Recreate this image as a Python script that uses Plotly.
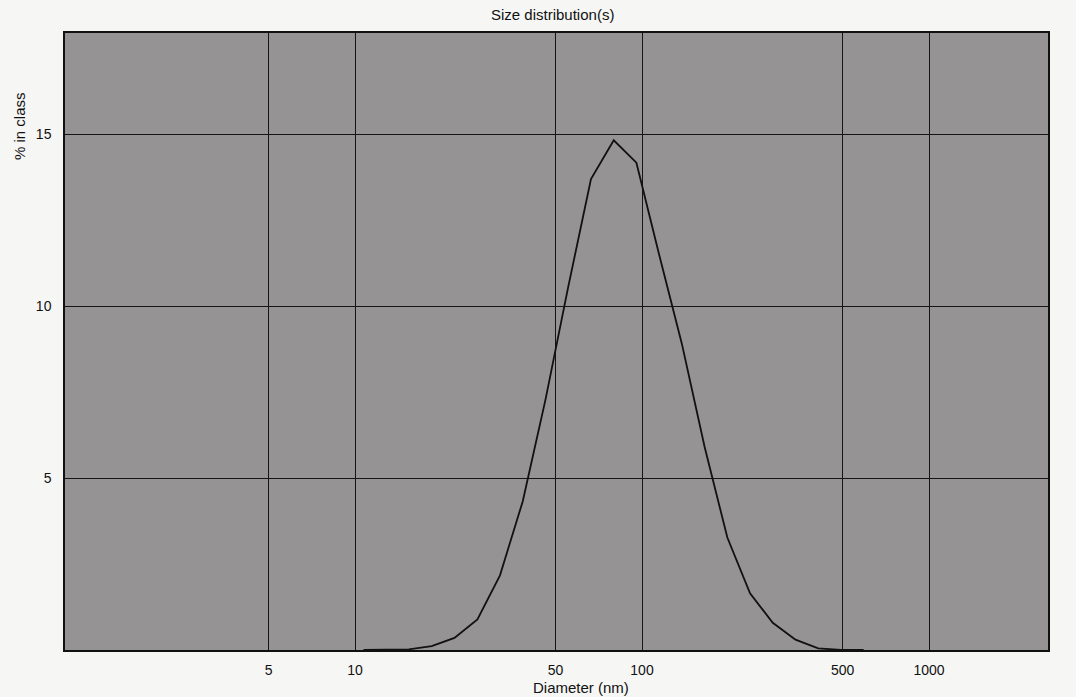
import plotly.graph_objects as go

# Size distribution
diameter_nm = [10.7, 12.9, 15.4, 18.5, 22.2, 26.7, 32.0, 38.4, 46.1, 55.3, 66.4, 79.7,
               95.6, 114.7, 137.7, 165.2, 198.3, 237.9, 285.5, 342.6, 411.1, 493.3, 592.0]
percent_in_class = [0.0, 0.0, 0.02, 0.11, 0.35, 0.89, 2.17, 4.32, 7.28, 10.55, 13.69, 14.82,
                    14.17, 11.50, 8.90, 5.91, 3.27, 1.65, 0.79, 0.30, 0.05, 0.0, 0.0]

x_tick_vals = [5, 10, 50, 100, 500, 1000]
x_tick_text = ["5", "10", "50", "100", "500", "1000"]
y_tick_vals = [5, 10, 15]
y_tick_text = ["5", "10", "15"]

FONT = "Liberation Sans, Arial, sans-serif"

fig = go.Figure()
fig.add_trace(go.Scatter(
    x=diameter_nm, y=percent_in_class, mode="lines",
    line=dict(color="#111111", width=1.8), showlegend=False, hoverinfo="x+y"))

fig.update_layout(
    width=1076, height=697,
    margin=dict(l=65, r=28, t=33, b=47),
    paper_bgcolor="#f6f6f5",
    plot_bgcolor="#959394",
    font=dict(family=FONT, size=14, color="#111111"),
    xaxis=dict(type="log", range=[-0.0105, 3.4146],
               tickmode="array", tickvals=x_tick_vals, ticktext=x_tick_text,
               showgrid=True, gridcolor="#151515", gridwidth=1.2,
               zeroline=False, showline=True, linecolor="#111111", linewidth=1.5,
               mirror=True, ticks="", ticklabelstandoff=6),
    yaxis=dict(range=[0, 17.94],
               tickmode="array", tickvals=y_tick_vals, ticktext=y_tick_text,
               showgrid=True, gridcolor="#151515", gridwidth=1.2,
               zeroline=False, showline=True, linecolor="#111111", linewidth=1.5,
               mirror=True, ticks="", ticklabelstandoff=9),
    annotations=[
        dict(text="Size distribution(s)", xref="paper", yref="paper",
             x=(552 - 65) / 983, y=1 + (33 - 15) / 617, showarrow=False,
             xanchor="center", yanchor="middle", font=dict(size=15)),
        dict(text="Diameter (nm)", xref="paper", yref="paper",
             x=(581 - 65) / 983, y=-(687 - 650) / 617, showarrow=False,
             xanchor="center", yanchor="middle", font=dict(size=15)),
        dict(text="% in class", xref="paper", yref="paper",
             x=-(65 - 19) / 983, y=(650 - 126) / 617, showarrow=False,
             textangle=-90, xanchor="center", yanchor="middle", font=dict(size=15)),
    ],
)

fig.write_html("out.html")
